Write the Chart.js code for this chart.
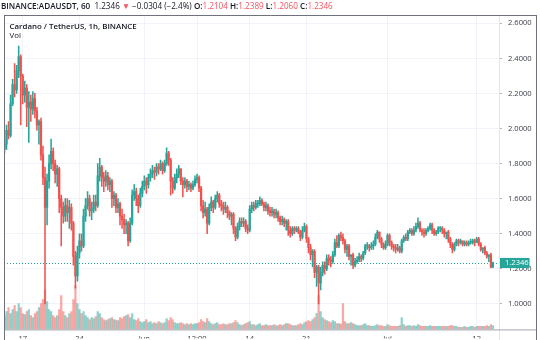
<!DOCTYPE html>
<html><head><meta charset="utf-8">
<script src="https://cdn.jsdelivr.net/npm/chart.js@4.4.1/dist/chart.umd.min.js"></script>
<style>
html,body{margin:0;padding:0;background:#fff;}
#wrap{position:relative;width:540px;height:340px;overflow:hidden;font-family:'Open Sans',sans-serif;}
canvas{position:absolute;left:0;top:0;}
.t{position:absolute;white-space:pre;color:#131722;line-height:1;}
.r{color:#f7525f;}
.b{font-weight:600;}
</style></head><body>
<div id="wrap">
<canvas id="c" width="540" height="340"></canvas>
<div class="t" id="hdr" style="left:1px;top:2px;font-size:8.15px;"></div>
<div class="t b" id="ttl" style="left:9.5px;top:22.5px;font-size:7.9px;"></div>
<div class="t" id="vol" style="left:9.5px;top:32px;font-size:7.9px;"></div>
</div>
<script>
// ---- data (6-hour candles) ----
const symbol = 'BINANCE:ADAUSDT, 60';
const titleText = 'Cardano / TetherUS, 1h, BINANCE';
const volText = 'Vol';
const startDay = 13.75;   // days since May 1 00:00 (May 14, 18:00)
const stepDay = 0.25;     // 6 hours
const firstOpen = 1.88;

const closes = [1.91,1.99,1.96,2.14,2.25,2.22,2.33,2.41,2.30,2.19,
 2.23,2.12,2.15,2.11,2.17,2.10,2.02,2.04,1.85,1.72,
 1.55,1.70,1.80,1.87,1.80,1.74,1.77,1.60,1.55,1.50,
 1.56,1.52,1.55,1.46,1.27,1.16,1.29,1.36,1.33,1.50,
 1.56,1.60,1.53,1.54,1.58,1.56,1.73,1.78,1.72,1.70,
 1.73,1.68,1.70,1.60,1.62,1.55,1.57,1.50,1.48,1.45,1.46,
 1.36,1.46,1.62,1.64,1.60,1.56,1.63,1.67,1.70,1.68,
 1.72,1.74,1.76,1.75,1.78,1.77,1.80,1.76,1.80,1.86,
 1.82,1.70,1.66,1.72,1.74,1.77,1.70,1.68,1.70,1.67,
 1.68,1.66,1.68,1.71,1.72,1.66,1.56,1.52,1.54,1.46,
 1.55,1.58,1.55,1.60,1.62,1.57,1.56,1.54,1.55,1.52,
 1.50,1.51,1.43,1.38,1.44,1.47,1.46,1.47,1.43,1.42,
 1.54,1.56,1.55,1.57,1.57,1.59,1.57,1.55,1.56,1.53,
 1.52,1.53,1.51,1.52,1.49,1.47,1.48,1.46,1.47,1.42,
 1.40,1.43,1.42,1.43,1.41,1.38,1.42,1.44,1.37,1.32,
 1.28,1.30,1.18,1.21,1.12,1.18,1.22,1.20,1.26,1.25,
 1.24,1.28,1.35,1.33,1.39,1.38,1.36,1.31,1.33,1.27,1.28,
 1.22,1.24,1.25,1.27,1.26,1.29,1.33,1.33,1.32,1.33,
 1.34,1.38,1.41,1.37,1.34,1.32,1.34,1.39,1.35,1.33,
 1.32,1.31,1.32,1.30,1.36,1.38,1.37,1.41,1.42,1.40,
 1.42,1.44,1.46,1.42,1.41,1.40,1.42,1.43,1.45,1.42,
 1.40,1.41,1.43,1.43,1.42,1.40,1.41,1.37,1.34,1.31,
 1.34,1.36,1.35,1.36,1.34,1.35,1.34,1.35,1.35,1.36,
 1.35,1.37,1.34,1.31,1.32,1.29,1.27,1.28,1.2104,1.2346];

const highs = [1.93,2.02,2.04,2.19,2.28,2.37,2.36,2.47,2.42,2.31,
 2.27,2.25,2.21,2.19,2.21,2.20,2.12,2.05,2.06,1.90,
 1.78,1.74,1.85,1.94,1.89,1.82,1.79,1.78,1.62,1.58,
 1.60,1.60,1.59,1.57,1.47,1.30,1.33,1.40,1.40,1.54,
 1.60,1.64,1.62,1.58,1.62,1.62,1.80,1.83,1.79,1.75,
 1.76,1.75,1.72,1.71,1.64,1.63,1.60,1.58,1.54,1.51,1.48,
 1.47,1.49,1.65,1.68,1.66,1.62,1.66,1.70,1.73,1.72,
 1.74,1.77,1.79,1.78,1.80,1.80,1.82,1.81,1.82,1.89,
 1.87,1.83,1.72,1.74,1.77,1.79,1.77,1.72,1.72,1.71,
 1.70,1.69,1.70,1.73,1.74,1.73,1.67,1.59,1.58,1.55,
 1.57,1.61,1.59,1.62,1.64,1.63,1.59,1.58,1.58,1.56,
 1.53,1.52,1.52,1.44,1.46,1.49,1.49,1.49,1.48,1.45,
 1.56,1.58,1.58,1.59,1.59,1.61,1.60,1.58,1.58,1.57,
 1.55,1.55,1.54,1.54,1.53,1.50,1.50,1.49,1.48,1.48,
 1.44,1.44,1.44,1.44,1.44,1.42,1.44,1.46,1.45,1.38,
 1.34,1.31,1.31,1.22,1.22,1.21,1.24,1.24,1.28,1.28,
 1.27,1.30,1.37,1.39,1.40,1.41,1.40,1.37,1.34,1.34,1.28,
 1.29,1.26,1.27,1.29,1.28,1.30,1.34,1.35,1.34,1.35,
 1.36,1.40,1.42,1.41,1.38,1.35,1.36,1.40,1.40,1.36,
 1.34,1.34,1.34,1.33,1.37,1.39,1.40,1.42,1.43,1.43,
 1.44,1.46,1.49,1.47,1.43,1.43,1.43,1.44,1.46,1.46,
 1.43,1.42,1.44,1.44,1.44,1.43,1.41,1.42,1.38,1.35,
 1.35,1.37,1.37,1.37,1.36,1.36,1.36,1.36,1.37,1.37,
 1.37,1.38,1.38,1.35,1.32,1.33,1.30,1.28,1.29,1.2389];

const lows = [1.86,1.88,1.94,1.95,2.13,2.18,2.20,2.29,2.02,2.14,
 2.15,2.01,1.92,2.04,2.08,2.06,1.99,1.91,1.82,1.68,
 1.00,1.45,1.66,1.77,1.76,1.69,1.67,1.52,1.33,1.46,
 1.47,1.47,1.43,1.42,1.22,1.09,1.13,1.26,1.30,1.32,
 1.47,1.54,1.50,1.48,1.52,1.53,1.55,1.70,1.67,1.64,
 1.67,1.65,1.64,1.55,1.56,1.52,1.52,1.45,1.43,1.40,1.40,
 1.33,1.35,1.45,1.59,1.56,1.52,1.55,1.61,1.65,1.63,
 1.66,1.70,1.72,1.71,1.73,1.74,1.76,1.74,1.75,1.79,
 1.79,1.62,1.63,1.65,1.69,1.72,1.68,1.61,1.66,1.64,
 1.65,1.64,1.65,1.67,1.69,1.64,1.53,1.49,1.50,1.40,
 1.45,1.53,1.52,1.54,1.58,1.55,1.53,1.51,1.52,1.49,
 1.48,1.45,1.40,1.36,1.37,1.42,1.44,1.44,1.41,1.40,
 1.41,1.52,1.53,1.54,1.55,1.56,1.56,1.53,1.53,1.51,
 1.50,1.50,1.49,1.49,1.47,1.45,1.45,1.44,1.42,1.39,
 1.38,1.39,1.40,1.41,1.40,1.36,1.37,1.41,1.35,1.29,
 1.25,1.21,1.15,1.10,1.00,1.08,1.16,1.17,1.19,1.22,
 1.21,1.23,1.27,1.32,1.32,1.36,1.34,1.29,1.27,1.25,1.22,
 1.20,1.21,1.23,1.24,1.24,1.25,1.28,1.31,1.30,1.31,
 1.31,1.33,1.37,1.35,1.32,1.31,1.31,1.33,1.33,1.31,
 1.30,1.29,1.30,1.29,1.29,1.35,1.36,1.36,1.40,1.39,
 1.39,1.41,1.43,1.41,1.39,1.38,1.39,1.41,1.42,1.40,
 1.39,1.39,1.40,1.41,1.40,1.38,1.37,1.35,1.32,1.29,
 1.30,1.33,1.33,1.34,1.33,1.33,1.33,1.33,1.34,1.34,
 1.33,1.35,1.33,1.30,1.29,1.28,1.26,1.24,1.205,1.206];

const volumes = [140,180,220,160,200,240,180,260,220,160,
 150,180,200,140,120,160,180,220,260,300,
 400,280,200,180,140,120,140,200,340,180,
 140,120,160,180,300,440,260,200,160,180,
 140,120,100,120,110,130,180,160,120,100,
 90,100,110,120,100,95,90,120,110,130,140,
 150,120,160,100,90,110,80,70,80,100,
 70,80,60,70,60,80,70,60,70,110,
 90,120,100,70,60,60,70,60,50,60,
 50,60,50,60,60,70,100,80,70,110,
 80,60,50,60,70,50,50,60,50,50,
 60,60,70,90,70,50,40,50,60,70,
 80,50,50,40,50,60,40,40,50,40,
 40,40,50,40,40,50,40,50,60,60,
 50,40,40,40,50,60,50,70,80,90,
 80,100,120,160,340,180,120,100,90,80,
 70,90,80,60,60,55,260,80,60,60,70,
 60,50,40,40,40,50,60,40,40,30,
 30,40,50,40,40,30,30,50,40,30,
 30,30,30,40,120,50,30,40,40,30,
 40,30,50,40,30,30,30,30,40,30,
 30,30,30,30,30,30,30,30,40,40,
 30,30,20,20,20,30,20,20,30,30,
 20,30,30,30,30,30,40,30,50,40];

const xTickDays = [16, 23, 31, 37.5, 44, 51, 61, 72];
const xTickLabels = ['17', '24', 'Jun', '12:00', '14', '21', 'Jul', '12'];
const yTicks = [1.0, 1.2, 1.4, 1.6, 1.8, 2.0, 2.2, 2.4, 2.6];
const changeText = '\u22120.0304 (\u22122.4%)';

// ---- build ----
const UP = '#26a69a', DOWN = '#ef5350';
const UPV = 'rgba(38,166,154,0.5)', DOWNV = 'rgba(239,83,80,0.5)';
const n = closes.length;
const days = closes.map((_, i) => startDay + i * stepDay);
const opens = closes.map((c, i) => i === 0 ? firstOpen : closes[i - 1]);
const isUp = closes.map((c, i) => c >= opens[i]);
const col = isUp.map(u => u ? UP : DOWN);
const vcol = isUp.map(u => u ? UPV : DOWNV);
const last = n - 1;
const lastClose = closes[last];

const f4 = v => v.toFixed(4);
document.getElementById('hdr').innerHTML =
  '<span class="b">' + symbol + '</span>  ' + f4(lastClose) + ' <span class="r">\u25BC</span> ' + changeText +
  ' <span class="b">O:</span><span class="r">' + f4(opens[last]) + '</span>' +
  ' <span class="b">H:</span><span class="r">' + f4(highs[last]) + '</span>' +
  ' <span class="b">L:</span><span class="r">' + f4(lows[last]) + '</span>' +
  ' <span class="b">C:</span><span class="r">' + f4(lastClose) + '</span>';
document.getElementById('ttl').textContent = titleText;
document.getElementById('vol').textContent = volText;

const FONT = "'Open Sans', sans-serif";

const framePlugin = {
  id: 'frame',
  beforeDatasetsDraw(chart) {
    const {ctx, chartArea: a, scales: {y}} = chart;
    const py = Math.round(y.getPixelForValue(lastClose)) + 0.5;
    ctx.save();
    ctx.strokeStyle = UP; ctx.lineWidth = 1; ctx.setLineDash([1, 2]);
    ctx.beginPath(); ctx.moveTo(a.left, py); ctx.lineTo(a.right, py); ctx.stroke();
    ctx.restore();
  },
  afterDraw(chart) {
    const {ctx, chartArea: a, scales: {y}} = chart;
    const H = chart.height;
    ctx.save();
    ctx.lineWidth = 1;
    const ln = (x1, y1, x2, y2) => { ctx.beginPath(); ctx.moveTo(x1, y1); ctx.lineTo(x2, y2); ctx.stroke(); };
    ctx.strokeStyle = '#e0e3eb';
    ln(a.right + 0.5, a.top, a.right + 0.5, H);
    ctx.strokeStyle = '#a3a6af';
    ln(a.left, a.bottom + 0.5, 537, a.bottom + 0.5);
    ctx.strokeStyle = '#6f727c';
    ln(4.5, a.top, 4.5, H);
    ln(536.5, a.top, 536.5, H);
    ln(4, a.top + 0.5, 537, a.top + 0.5);
    const py = y.getPixelForValue(lastClose);
    ctx.fillStyle = UP;
    ctx.fillRect(a.right + 1, py - 4.8, 29.5, 10.2);
    ctx.fillStyle = '#ffffff';
    ctx.font = '7.6px ' + FONT;
    ctx.textBaseline = 'middle';
    ctx.fillText(f4(lastClose), a.right + 6, py + 0.6);
    ctx.restore();
  }
};

new Chart(document.getElementById('c'), {
  type: 'bar',
  data: {
    datasets: [
      { label: 'Volume', yAxisID: 'yv', order: 3, grouped: false, barThickness: 1.6,
        data: volumes.map((v, i) => ({x: days[i], y: v})), backgroundColor: vcol },
      { label: 'Wick', yAxisID: 'y', order: 2, grouped: false, barThickness: 0.9,
        data: highs.map((h, i) => ({x: days[i], y: [lows[i], h]})), backgroundColor: col },
      { label: 'Body', yAxisID: 'y', order: 1, grouped: false, barThickness: 1.6, minBarLength: 1,
        data: closes.map((c, i) => ({x: days[i], y: [opens[i], c]})), backgroundColor: col }
    ]
  },
  options: {
    responsive: false, animation: false, devicePixelRatio: 1,
    layout: {padding: {left: 4, top: 15, right: 0, bottom: 0}},
    plugins: {legend: {display: false}, tooltip: {enabled: false}, title: {display: false}},
    scales: {
      x: {
        type: 'linear', min: 13.69, max: 74.75, offset: false,
        grid: {offset: false, color: '#f0f3fa', drawTicks: false},
        border: {display: false},
        afterBuildTicks: s => { s.ticks = xTickDays.map(v => ({value: v})); },
        afterFit: s => { s.height = 9; },
        ticks: {
          autoSkip: false, maxRotation: 0, padding: 5, color: '#3c404b',
          font: {family: FONT, size: 7.6},
          callback: v => { const k = xTickDays.indexOf(v); return k >= 0 ? xTickLabels[k] : ''; }
        }
      },
      y: {
        position: 'right', min: 0.8542, max: 2.6471,
        grid: {color: '#f0f3fa', tickLength: 3, tickColor: '#b2b5be'},
        border: {display: false},
        afterBuildTicks: s => { s.ticks = yTicks.map(v => ({value: v})); },
        afterFit: s => { s.width = 41; },
        ticks: {
          padding: 6, color: '#3c404b', font: {family: FONT, size: 7.6},
          callback: v => Number(v).toFixed(4)
        }
      },
      yv: { display: false, min: 0, max: 3160 }
    }
  },
  plugins: [framePlugin]
});
</script>
</body></html>
